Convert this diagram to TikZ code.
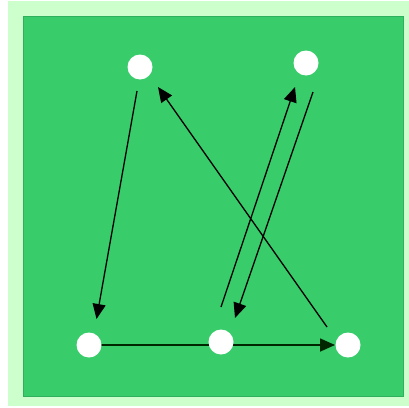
\documentclass[tikz,border=0pt]{standalone}
\usetikzlibrary{arrows.meta,calc}
\definecolor{outergreen}{HTML}{CCFFCC}
\definecolor{innergreen}{HTML}{38CC6B}
\definecolor{innerborder}{HTML}{2FB05C}
\begin{document}
\begin{tikzpicture}[x=1pt,y=-1pt,
  dot/.style={circle,fill=white,draw=none,minimum size=25pt,inner sep=0pt},
  edge/.style={line width=1.3pt,draw=black,-{Triangle[length=15pt,width=13pt]}}]
\useasboundingbox (0,0) rectangle (409,407);
\fill[white] (0,0) rectangle (409,407);
\fill[outergreen] (8,1) rectangle (409,406);
\filldraw[fill=innergreen,draw=innerborder,line width=0.6pt] (23,16) rectangle (403.5,396);
\coordinate (pA) at (140,67);
\coordinate (pB) at (306,63);
\coordinate (pC) at (89,345);
\coordinate (pD) at (221,342);
\coordinate (pE) at (348,345);
% connectors
\draw[edge,line width=1.6pt,draw=black!85!green] ($(pC)+(12,0)$) -- ($(pE)+(-13,0)$);
\draw[edge] ($(pA)+(-3,24)$) -- ($(pC)+(7.5,-26)$);
\draw[edge] ($(pE)+(-21,-18)$) -- ($(pA)+(18,20)$);
\draw[edge] ($(pD)+(0,-35)$) -- ($(pB)+(-11,24)$);
\draw[edge] ($(pB)+(7,29)$) -- ($(pD)+(14,-24)$);
% nodes
\node[dot] (A) at (pA) {};
\node[dot] (B) at (pB) {};
\node[dot] (C) at (pC) {};
\node[dot] (D) at (pD) {};
\node[dot] (E) at (pE) {};
\end{tikzpicture}
\end{document}
